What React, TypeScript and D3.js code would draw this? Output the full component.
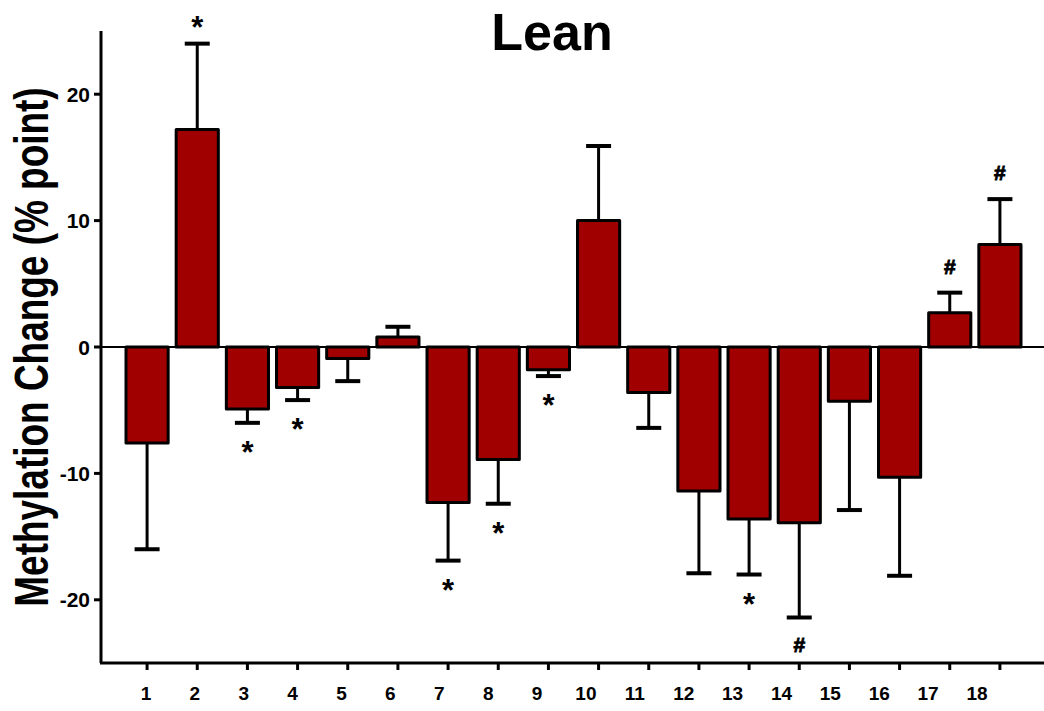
import React, { useEffect, useRef } from "react"
import * as d3 from "d3"

const categories = ["1", "2", "3", "4", "5", "6", "7", "8", "9", "10", "11", "12", "13", "14", "15", "16", "17", "18"]
const means = [-7.6, 17.2, -4.9, -3.2, -0.9, 0.8, -12.3, -8.9, -1.8, 10.0, -3.6, -11.4, -13.6, -13.9, -4.3, -10.3, 2.7, 8.1]
const errors = [8.4, 6.8, 1.1, 1.0, 1.8, 0.8, 4.6, 3.5, 0.5, 5.9, 2.8, 6.5, 4.4, 7.5, 8.6, 7.8, 1.6, 3.6]
const marks = ["", "*", "*", "*", "", "", "*", "*", "*", "", "", "", "*", "#", "", "", "#", "#"]
const yTicks = [-20, -10, 0, 10, 20]

const W = 1044
const H = 711
const font = "'Liberation Sans', Arial, sans-serif"

export default function App() {
    const ref = useRef(null)

    useEffect(() => {
        const svg = d3.select(ref.current)
        svg.selectAll("*").remove()

        const x = d3.scaleBand()
            .domain(categories)
            .range([122, 1025])
            .paddingInner(0.1)
            .paddingOuter(0.05)
        // the tick labels sit a bit tighter than the ticks in the original
        const xLabel = d3.scalePoint()
            .domain(categories)
            .range([146, 977])
        const y = d3.scaleLinear().domain([-25, 25]).range([663, 31])

        // bars
        svg.selectAll("rect.bar")
            .data(means)
            .enter()
            .append("rect")
            .attr("class", "bar")
            .attr("x", (d, i) => x(categories[i]) + 1.5)
            .attr("width", x.bandwidth() - 3)
            .attr("y", d => Math.min(y(d), y(0)))
            .attr("height", d => Math.abs(y(d) - y(0)))
            .attr("fill", "#a00000")
            .attr("stroke", "#000")
            .attr("stroke-width", 3)
            .attr("stroke-linejoin", "round")

        // error bars, outward side only
        const errEnd = (d, i) => d + Math.sign(d) * errors[i]
        const cx = (i) => x(categories[i]) + x.bandwidth() / 2
        const eb = svg.selectAll("g.err").data(means).enter().append("g")
        eb.append("line")
            .attr("x1", (d, i) => cx(i))
            .attr("x2", (d, i) => cx(i))
            .attr("y1", d => y(d))
            .attr("y2", (d, i) => y(errEnd(d, i)))
            .attr("stroke", "#000")
            .attr("stroke-width", 3)
        eb.append("line")
            .attr("x1", (d, i) => cx(i) - 12.5)
            .attr("x2", (d, i) => cx(i) + 12.5)
            .attr("y1", (d, i) => y(errEnd(d, i)))
            .attr("y2", (d, i) => y(errEnd(d, i)))
            .attr("stroke", "#000")
            .attr("stroke-width", 4)

        // significance marks
        svg.selectAll("text.mark")
            .data(means)
            .enter()
            .append("text")
            .attr("x", (d, i) => cx(i))
            .attr("y", (d, i) => {
                const e = y(errEnd(d, i))
                if (marks[i] === "#") return d > 0 ? e - 19 : e + 35
                return d > 0 ? e - 6 : e + 40
            })
            .attr("text-anchor", "middle")
            .attr("font-family", font)
            .attr("font-weight", "bold")
            .attr("font-size", (d, i) => marks[i] === "#" ? 21 : 31)
            .attr("stroke", "#000")
            .attr("stroke-width", (d, i) => marks[i] === "#" ? 0.9 : 0)
            .text((d, i) => marks[i])

        // zero line
        svg.append("line")
            .attr("x1", 101).attr("x2", W)
            .attr("y1", y(0)).attr("y2", y(0))
            .attr("stroke", "#000").attr("stroke-width", 2)

        // y axis
        const yAxis = svg.append("g")
        yAxis.append("line")
            .attr("x1", 101).attr("x2", 101)
            .attr("y1", 31).attr("y2", 663)
            .attr("stroke", "#000").attr("stroke-width", 3)
        yAxis.selectAll("line.tick").data(yTicks).enter().append("line")
            .attr("x1", 94).attr("x2", 101)
            .attr("y1", d => y(d)).attr("y2", d => y(d))
            .attr("stroke", "#000").attr("stroke-width", 3)
        yAxis.selectAll("text").data(yTicks).enter().append("text")
            .attr("x", 90)
            .attr("y", d => y(d) + 7.5)
            .attr("text-anchor", "end")
            .attr("font-family", font)
            .attr("font-weight", "bold")
            .attr("font-size", 21)
            .text(d => d)

        // x axis
        const xAxis = svg.append("g")
        xAxis.append("line")
            .attr("x1", 100).attr("x2", W)
            .attr("y1", 663).attr("y2", 663)
            .attr("stroke", "#000").attr("stroke-width", 3)
        xAxis.selectAll("line.tick").data(categories).enter().append("line")
            .attr("x1", d => x(d) + x.bandwidth() / 2)
            .attr("x2", d => x(d) + x.bandwidth() / 2)
            .attr("y1", 663).attr("y2", 670)
            .attr("stroke", "#000").attr("stroke-width", 3)
        xAxis.selectAll("text").data(categories).enter().append("text")
            .attr("x", d => xLabel(d))
            .attr("y", 700)
            .attr("text-anchor", "middle")
            .attr("font-family", font)
            .attr("font-weight", "bold")
            .attr("font-size", 19)
            .text(d => d)

        // title and axis title
        svg.append("text")
            .attr("x", 552).attr("y", 50)
            .attr("text-anchor", "middle")
            .attr("font-family", font)
            .attr("font-weight", "bold")
            .attr("font-size", 52)
            .text("Lean")
        // the original axis title is squeezed along its length
        svg.append("text")
            .attr("transform", "translate(48,347) rotate(-90) scale(0.77,1)")
            .attr("text-anchor", "middle")
            .attr("font-family", font)
            .attr("font-weight", "bold")
            .attr("font-size", 48)
            .text("Methylation Change (% point)")
    }, [])

    return (
        <div style={{ position: "absolute", left: 0, top: 0 }}>
            <svg ref={ref} width={W} height={H} style={{ display: "block", background: "#fff" }} />
        </div>
    )
}
